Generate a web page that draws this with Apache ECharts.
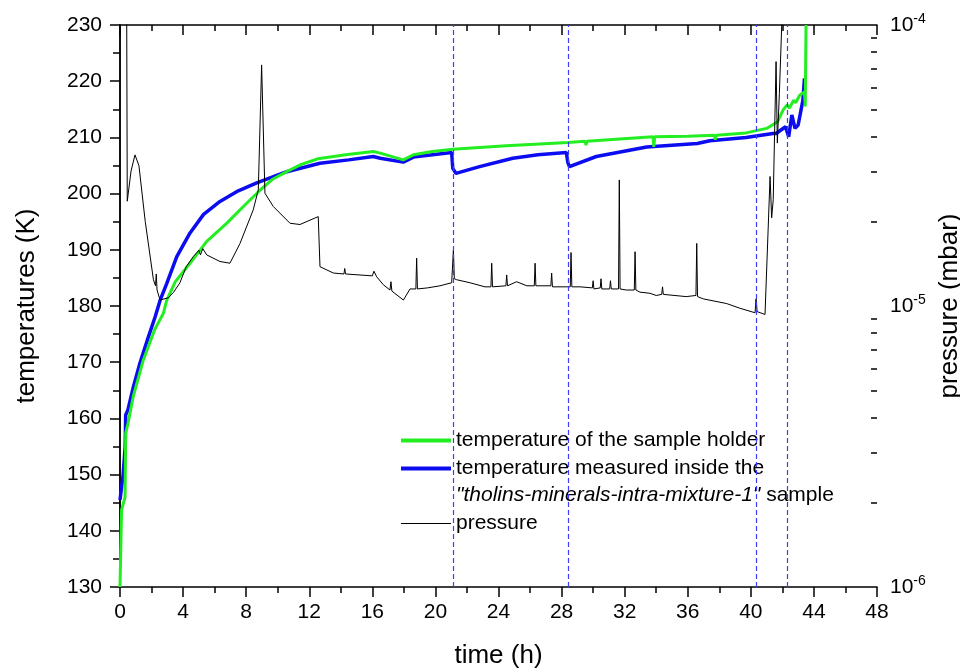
<!DOCTYPE html>
<html>
<head>
<meta charset="utf-8">
<script src="https://cdn.jsdelivr.net/npm/echarts@6/dist/echarts.min.js"></script>
<style>
  html, body { margin: 0; padding: 0; background: #fff; }
  #chart { width: 960px; height: 670px; }
</style>
</head>
<body>
<div id="chart"></div>
<script>
// sample holder temperature (K) vs time (h)
const holderTime = [0, 0.1, 0.32, 0.36, 0.5, 0.84, 1.48, 2.2, 2.75, 2.96, 3.5, 4.44, 5.5, 6.76, 8.0, 8.88, 9.7, 10.57, 11.5, 12.56, 14.3, 16.06, 16.5, 17.96, 18.6, 19.8, 21.1, 24.5, 28.4, 29.5, 29.55, 29.6, 31, 33.8, 33.85, 33.9, 36, 37.7, 37.75, 37.8, 39.7, 41.0, 41.7, 42.05, 42.3, 42.45, 42.7, 42.85, 43.1, 43.4, 43.45, 43.5];
const holderTemp = [130, 143.7, 146, 157.4, 159, 163.9, 170.4, 175.8, 178.7, 181, 184.3, 187.6, 191.5, 194.7, 198.2, 200.6, 202.6, 203.9, 205.2, 206.2, 206.9, 207.5, 207.2, 206.0, 206.9, 207.5, 207.9, 208.5, 209.1, 209.3, 208.6, 209.3, 209.6, 210.1, 208.3, 210.1, 210.2, 210.4, 209.6, 210.4, 210.8, 211.6, 212.8, 214.9, 215.8, 215.2, 216.6, 216.2, 217.5, 218.1, 215.5, 230];

// temperature inside the sample (K) vs time (h)
const sampleTime = [0, 0.2, 0.33, 0.36, 0.5, 0.83, 1.27, 1.8, 2.22, 2.54, 2.96, 3.6, 4.44, 5.3, 6.34, 7.5, 8.67, 10.57, 12.68, 14.5, 16.06, 16.5, 17.96, 18.6, 21.03, 21.1, 21.3, 22.8, 24.9, 26.5, 28.3, 28.4, 28.5, 30.2, 33.4, 36.6, 37.4, 39.7, 41.4, 41.6, 42.2, 42.4, 42.6, 42.8, 43.0, 43.3, 43.4];
const sampleTemp = [145.5, 150, 155, 160.6, 161.5, 165.4, 169.9, 174.5, 178, 181, 184, 188.8, 193, 196.3, 198.6, 200.5, 201.9, 203.9, 205.4, 206, 206.6, 206.3, 205.6, 206.5, 207.3, 204.5, 203.6, 204.8, 206.3, 206.9, 207.3, 205.5, 204.8, 206.6, 208.3, 208.9, 209.4, 210, 210.7, 210.7, 211.9, 210.1, 214, 211.6, 212.2, 216.6, 220.5];

// pressure (mbar) vs time (h)
const pressureTime = [0.40, 0.46, 0.70, 0.95, 1.20, 1.60, 2.12, 2.25, 2.30, 2.35, 2.54, 3.07, 3.40, 3.80, 4.20, 4.65, 5.00, 5.10, 5.25, 5.5, 6.34, 6.97, 7.61, 8.45, 8.77, 8.98, 9.19, 9.72, 10.78, 11.41, 12.57, 12.68, 13.53, 14.20, 14.25, 14.30, 16.00, 16.10, 16.28, 16.70, 17.12, 17.18, 17.24, 17.97, 18.39, 18.76, 18.81, 18.86, 19.5, 20.29, 21.03, 21.14, 21.20, 21.35, 22.19, 23.14, 23.52, 23.57, 23.62, 24.47, 24.52, 24.57, 25.15, 25.8, 26.27, 26.32, 26.37, 27.32, 27.37, 27.42, 28.32, 28.55, 28.60, 28.65, 29.17, 29.95, 30.0, 30.05, 30.45, 30.5, 30.55, 31.05, 31.1, 31.15, 31.61, 31.66, 31.71, 32.1, 32.61, 32.66, 32.71, 32.97, 33.6, 34.0, 34.35, 34.4, 34.45, 35.9, 36.52, 36.57, 36.62, 36.99, 38.47, 39.3, 40.27, 40.33, 40.4, 40.9, 41.22, 41.32, 41.42, 41.60, 41.68, 41.81, 41.96, 42.05];
const pressure = [3.2e-4, 2.36e-5, 3.02e-5, 3.45e-5, 3.16e-5, 2.00e-5, 1.24e-5, 1.18e-5, 1.30e-5, 1.14e-5, 1.05e-5, 1.07e-5, 1.12e-5, 1.21e-5, 1.38e-5, 1.50e-5, 1.58e-5, 1.52e-5, 1.60e-5, 1.52e-5, 1.44e-5, 1.42e-5, 1.67e-5, 2.20e-5, 2.59e-5, 7.21e-5, 2.52e-5, 2.26e-5, 1.97e-5, 1.95e-5, 2.08e-5, 1.38e-5, 1.31e-5, 1.30e-5, 1.36e-5, 1.30e-5, 1.28e-5, 1.33e-5, 1.27e-5, 1.19e-5, 1.14e-5, 1.22e-5, 1.13e-5, 1.05e-5, 1.15e-5, 1.15e-5, 1.48e-5, 1.15e-5, 1.16e-5, 1.18e-5, 1.21e-5, 1.58e-5, 1.25e-5, 1.24e-5, 1.21e-5, 1.17e-5, 1.17e-5, 1.42e-5, 1.17e-5, 1.18e-5, 1.29e-5, 1.18e-5, 1.22e-5, 1.18e-5, 1.18e-5, 1.42e-5, 1.18e-5, 1.18e-5, 1.31e-5, 1.17e-5, 1.17e-5, 1.17e-5, 1.55e-5, 1.17e-5, 1.17e-5, 1.16e-5, 1.23e-5, 1.15e-5, 1.16e-5, 1.25e-5, 1.15e-5, 1.15e-5, 1.23e-5, 1.15e-5, 1.15e-5, 2.81e-5, 1.15e-5, 1.14e-5, 1.14e-5, 1.56e-5, 1.14e-5, 1.12e-5, 1.11e-5, 1.09e-5, 1.10e-5, 1.17e-5, 1.10e-5, 1.08e-5, 1.09e-5, 1.67e-5, 1.08e-5, 1.06e-5, 1.02e-5, 9.82e-6, 9.46e-6, 1.06e-5, 9.55e-6, 9.33e-6, 2.89e-5, 2.06e-5, 2.39e-5, 7.41e-5, 3.80e-5, 5.71e-5, 1.0e-4, 1.6e-4];

// times of the dashed markers (h)
const markerTimes = [21.13, 28.43, 40.33, 42.3];
const pressureMinorTicks = [2e-6, 3e-6, 4e-6, 5e-6, 6e-6, 7e-6, 8e-6, 9e-6, 2e-5, 3e-5, 4e-5, 5e-5, 6e-5, 7e-5, 8e-5, 9e-5];

const holderName = 'temperature of the sample holder';
const sampleName = 'temperature measured inside the "tholins-minerals-intra-mixture-1" sample';
const pressureName = 'pressure';

const font = "'Liberation Sans', Arial, sans-serif";
const pair = (xs, ys) => xs.map((x, i) => [x, ys[i]]);

const chart = echarts.init(document.getElementById('chart'));

const option = {
  backgroundColor: '#fff',
  animation: false,
  textStyle: { fontFamily: font, color: '#000' },
  grid: { left: 120, right: 83, top: 25, bottom: 83, outerBoundsMode: 'none' },
  legend: [
    {
      data: [holderName, sampleName].map(n => ({ name: n, icon: 'rect' })),
      orient: 'vertical',
      left: 401,
      top: 430,
      padding: 0,
      itemGap: 7,
      itemWidth: 50,
      itemHeight: 4,
      formatter: name => name === sampleName ? 'temperature measured inside the' : name,
      textStyle: { fontFamily: font, fontSize: 21, color: '#000', lineHeight: 21 }
    },
    {
      data: [{ name: pressureName, icon: 'rect' }],
      left: 401,
      top: 513,
      padding: 0,
      itemWidth: 50,
      itemHeight: 1.2,
      textStyle: { fontFamily: font, fontSize: 21, color: '#000', lineHeight: 21 }
    }
  ],
  graphic: [
    {
      type: 'text',
      left: 456,
      top: 485,
      style: {
        text: '{i|"tholins-minerals-intra-mixture-1"}{n| sample}',
        rich: {
          i: { fontFamily: font, fontSize: 21, fontStyle: 'italic', fill: '#000' },
          n: { fontFamily: font, fontSize: 21, fill: '#000' }
        }
      }
    }
  ],
  xAxis: [
    {
      type: 'value',
      min: 0,
      max: 48,
      interval: 4,
      position: 'bottom',
      name: 'time (h)',
      nameLocation: 'middle',
      nameGap: 56,
      nameTextStyle: { fontFamily: font, fontSize: 26, color: '#000' },
      axisLine: { lineStyle: { color: '#000', width: 1.5 } },
      axisTick: { length: 10, lineStyle: { color: '#000', width: 1.5 } },
      minorTick: { show: true, splitNumber: 2, length: 6, lineStyle: { color: '#000', width: 1.5 } },
      axisLabel: { fontFamily: font, fontSize: 21, color: '#000', margin: 15 },
      splitLine: { show: false }
    },
    {
      type: 'value',
      min: 0,
      max: 48,
      interval: 4,
      position: 'top',
      axisLine: { lineStyle: { color: '#000', width: 1.5 } },
      axisTick: { inside: true, length: 10, lineStyle: { color: '#000', width: 1.5 } },
      minorTick: { show: true, splitNumber: 2, length: 6, lineStyle: { color: '#000', width: 1.5 } },
      axisLabel: { show: false },
      splitLine: { show: false }
    }
  ],
  yAxis: [
    {
      type: 'value',
      min: 130,
      max: 230,
      interval: 10,
      position: 'left',
      name: 'temperatures (K)',
      nameLocation: 'middle',
      nameGap: 80,
      nameTextStyle: { fontFamily: font, fontSize: 26, color: '#000' },
      axisLine: { show: true, lineStyle: { color: '#000', width: 1.5 } },
      axisTick: { show: true, length: 10, lineStyle: { color: '#000', width: 1.5 } },
      minorTick: { show: true, splitNumber: 2, length: 7, lineStyle: { color: '#000', width: 1.5 } },
      axisLabel: { fontFamily: font, fontSize: 21, color: '#000', margin: 18 },
      splitLine: { show: false }
    },
    {
      type: 'log',
      min: 1e-6,
      max: 1e-4,
      position: 'right',
      name: 'pressure (mbar)',
      nameLocation: 'middle',
      nameRotate: 90,
      nameGap: 57,
      nameTextStyle: { fontFamily: font, fontSize: 26, color: '#000' },
      axisLine: { show: true, lineStyle: { color: '#000', width: 1.5 } },
      axisTick: { show: true, inside: true, length: 10, lineStyle: { color: '#000', width: 1.5 } },
      axisLabel: {
        margin: 13,
        formatter: v => '{b|10}{s|' + Math.round(Math.log10(v)) + '}',
        rich: {
          b: { fontFamily: font, fontSize: 21, color: '#000' },
          s: { fontFamily: font, fontSize: 14, color: '#000', padding: [0, 0, 12, 0] }
        }
      },
      splitLine: { show: false }
    },
    {
      type: 'log',
      min: 1e-6,
      max: 1e-4,
      position: 'right',
      axisLine: { show: false },
      axisTick: { show: true, inside: true, length: 6, customValues: pressureMinorTicks, lineStyle: { color: '#000', width: 1.5 } },
      axisLabel: { show: false },
      splitLine: { show: false }
    }
  ],
  series: [
    {
      name: 'markers',
      type: 'line',
      data: [],
      silent: true,
      markLine: {
        silent: true,
        symbol: 'none',
        label: { show: false },
        lineStyle: { color: '#3d3dff', width: 1.2, type: [5, 3] },
        data: markerTimes.map(t => ({ xAxis: t }))
      }
    },
    {
      name: sampleName,
      type: 'line',
      showSymbol: false,
      symbol: 'none',
      color: '#0c0cf0',
      lineStyle: { width: 3.5 },
      data: pair(sampleTime, sampleTemp)
    },
    {
      name: holderName,
      type: 'line',
      showSymbol: false,
      symbol: 'none',
      color: '#22ee22',
      lineStyle: { width: 3 },
      data: pair(holderTime, holderTemp)
    },
    {
      name: pressureName,
      type: 'line',
      yAxisIndex: 1,
      showSymbol: false,
      symbol: 'none',
      color: '#000',
      lineStyle: { width: 1 },
      clip: true,
      data: pair(pressureTime, pressure)
    }
  ]
};

chart.setOption(option);
</script>
</body>
</html>
